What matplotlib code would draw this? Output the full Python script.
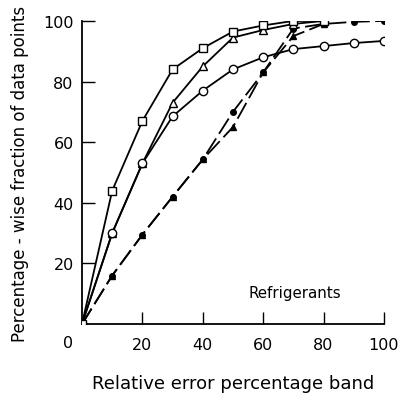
import matplotlib
matplotlib.use("Agg")
import matplotlib.pyplot as plt

x_open = [0, 10, 20, 30, 40, 50, 60, 70, 80]
squares = [0, 44, 67, 84, 91, 96.5, 98.5, 100, 100]
triangles = [0, 30, 53, 73, 85, 94.5, 97, 99, 100]

x_circ = [0, 10, 20, 30, 40, 50, 60, 70, 80, 90, 100]
circles = [0, 30, 53, 68.5, 77, 84, 88, 90.7, 91.7, 92.7, 93.4]
filled_circles = [0, 16, 29.5, 42, 54.3, 70, 83, 97.5, 99, 99.7, 100]

x_ftri = [0, 10, 20, 30, 40, 50, 60, 70, 80]
filled_tri = [0, 16, 29.5, 42, 54.3, 65, 83, 95, 99]

xticks = [20, 40, 60, 80, 100]
yticks = [20, 40, 60, 80, 100]

plt.rcParams['font.family'] = ['DejaVu Sans']
fig = plt.figure(figsize=(4.05, 4.06), dpi=100)
ax = fig.add_axes([0.2025, 0.1995, 0.7455, 0.7465])

lw = 1.3
ax.plot(x_open, squares, color='black', lw=lw, marker='s', ms=6, mfc='white', mec='black', mew=1.0, zorder=4)
ax.plot(x_open, triangles, color='black', lw=lw, marker='^', ms=6, mfc='white', mec='black', mew=1.0, zorder=3)
ax.plot(x_circ, circles, color='black', lw=lw, marker='o', ms=6, mfc='white', mec='black', mew=1.0, zorder=3)
ax.plot(x_circ, filled_circles, color='black', lw=lw, dashes=(10, 3), marker='o', ms=4, mfc='black', mec='black', zorder=2)
ax.plot(x_ftri, filled_tri, color='black', lw=lw, dashes=(10, 3), marker='^', ms=4, mfc='black', mec='black', zorder=2)

ax.set_xlim(0, 100)
ax.set_ylim(0, 100)
for s in ['top', 'right']:
    ax.spines[s].set_visible(False)
for s in ['left', 'bottom']:
    ax.spines[s].set_linewidth(1.3)
ax.set_xticks(xticks)
ax.set_yticks(yticks)
ax.tick_params(direction='in', length=9, width=1.0, labelsize=11.5, pad=6)
ax.tick_params(axis='x', pad=9)
ax.text(-3, -6, '0', ha='right', va='center', fontsize=11.5, transform=ax.transData, clip_on=False)

ax.text(55, 10.5, 'Refrigerants', ha='left', va='center', fontsize=10.8)
ax.set_xlabel('Relative error percentage band', fontsize=13, labelpad=16)
ax.set_ylabel('Percentage - wise fraction of data points', fontsize=12, labelpad=10)

fig.savefig('out.png', dpi=100)
